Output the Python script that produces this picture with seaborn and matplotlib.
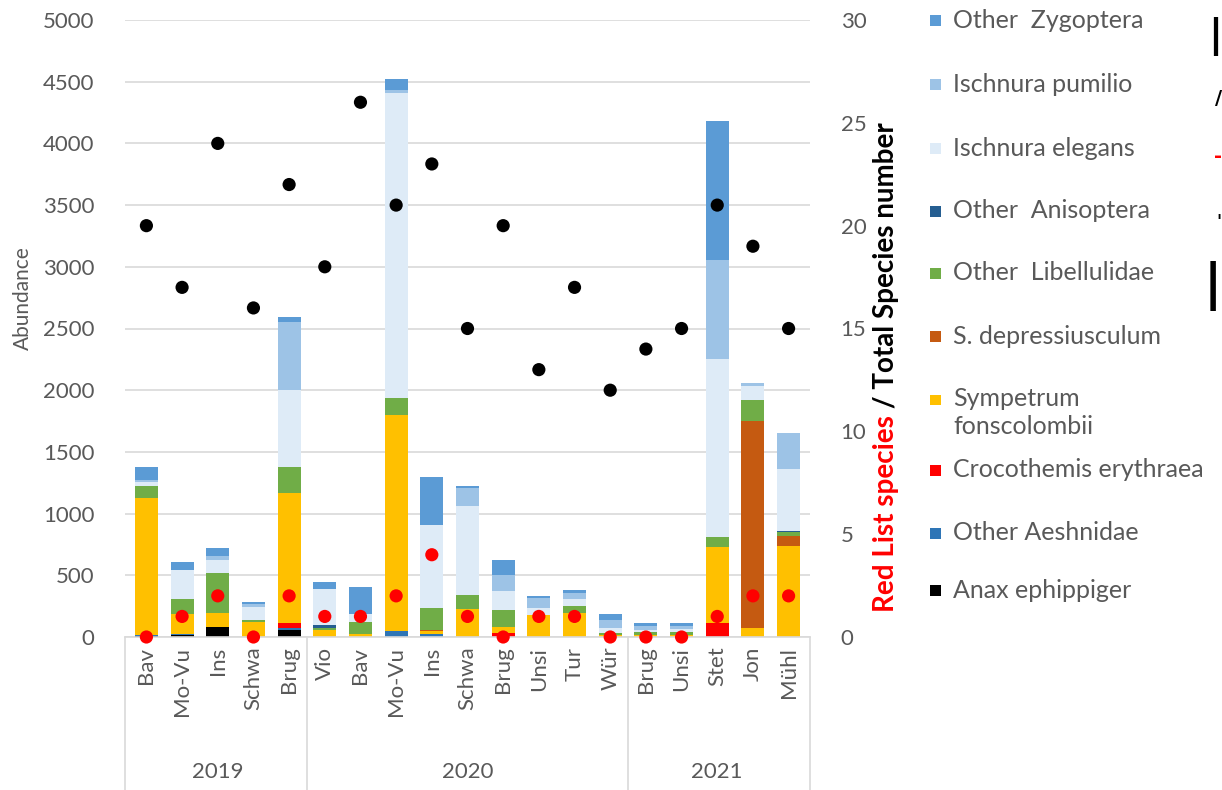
import numpy as np
import pandas as pd
import matplotlib
matplotlib.use("Agg")
import matplotlib.pyplot as plt
from matplotlib.patches import Rectangle
import matplotlib.transforms as mtransforms
import seaborn as sns

# ---------------- data ----------------
sites = ["Bav", "Mo-Vu", "Ins", "Schwa", "Brug",
         "Vio", "Bav", "Mo-Vu", "Ins", "Schwa", "Brug", "Unsi", "Tur", "Wür",
         "Brug", "Unsi", "Stet", "Jon", "Mühl"]
years = ["2019", "2020", "2021"]
year_sizes = [5, 9, 5]

anax_ephippiger   = [5, 20, 80, 0, 55,   0, 0, 0, 0, 0, 0, 0, 0, 0,   0, 0, 0, 0, 0]
other_aeshnidae   = [10, 5, 5, 0, 20,    0, 0, 45, 25, 0, 0, 0, 0, 0,  0, 0, 0, 0, 0]
crocothemis       = [0, 0, 0, 0, 35,     0, 0, 0, 0, 0, 30, 0, 0, 0,   0, 0, 113, 0, 0]
sympetrum_fonsc   = [1110, 165, 110, 120, 1060,  55, 25, 1755, 20, 230, 55, 180, 195, 16,  15, 16, 616, 72, 735]
s_depressiusculum = [0, 0, 0, 0, 0,      0, 0, 0, 15, 0, 0, 0, 0, 0,   0, 0, 0, 1675, 87]
other_libellulidae = [95, 120, 325, 15, 210,  15, 100, 135, 175, 108, 135, 0, 60, 20,  22, 27, 81, 176, 25]
other_anisoptera  = [0, 0, 0, 0, 0,      25, 0, 0, 0, 5, 0, 0, 0, 0,   0, 0, 0, 0, 10]
ischnura_elegans  = [35, 230, 100, 110, 620,  295, 65, 2470, 676, 721, 150, 55, 50, 37,  20, 25, 1445, 115, 505]
ischnura_pumilio  = [15, 0, 35, 20, 550,  0, 0, 30, 0, 143, 135, 80, 50, 62,  30, 20, 800, 20, 288]
other_zygoptera   = [110, 65, 70, 15, 40,  55, 215, 85, 385, 20, 120, 15, 23, 54,  25, 25, 1125, 0, 0]

total_species = [20, 17, 24, 16, 22,  18, 26, 21, 23, 15, 20, 13, 17, 12,  14, 15, 21, 19, 15]
red_list      = [0, 1, 2, 0, 2,       1, 1, 2, 4, 1, 0, 1, 1, 0,       0, 0, 1, 2, 2]

series_names = ["Anax ephippiger", "Other Aeshnidae", "Crocothemis erythraea",
                "Sympetrum\nfonscolombii", "S. depressiusculum", "Other  Libellulidae",
                "Other  Anisoptera", "Ischnura elegans", "Ischnura pumilio", "Other  Zygoptera"]
series_values = [anax_ephippiger, other_aeshnidae, crocothemis, sympetrum_fonsc,
                 s_depressiusculum, other_libellulidae, other_anisoptera,
                 ischnura_elegans, ischnura_pumilio, other_zygoptera]
series_colors = ["#000000", "#2E75B6", "#FF0000", "#FFC000", "#C55A11",
                 "#70AD47", "#255E91", "#DEEBF7", "#9DC3E6", "#5B9BD5"]

# ---------------- style ----------------
sns.set_theme(style="white")
plt.rcParams["font.family"] = ["Lato", "DejaVu Sans"]
GREY = "#595959"
GRID = "#D9D9D9"
FS = 16

W, H = 1222, 790
fig = plt.figure(figsize=(W / 100, H / 100), dpi=100)
fig.patch.set_facecolor("white")

def fx(px):
    return px / W

def fy(py):
    return 1 - py / H

ax = fig.add_axes([fx(125), fy(637), fx(810) - fx(125), fy(20) - fy(637)])

pos = np.arange(len(sites))
cum = np.cumsum(np.array(series_values, dtype=float), axis=0)

# draw stacked bars: top cumulative first, lower layers overlaid
for i in range(len(series_values) - 1, -1, -1):
    df = pd.DataFrame({"pos": pos, "val": cum[i]})
    sns.barplot(data=df, x="pos", y="val", color=series_colors[i], saturation=1,
                width=0.64, linewidth=0, ax=ax, zorder=2)

ax.set_ylim(0, 5000)
ax.set_yticks(np.arange(0, 5001, 500))
ax.set_yticklabels([str(v) for v in range(0, 5001, 500)], color=GREY, fontsize=FS)
ax.yaxis.grid(True, color=GRID, linewidth=1.2, zorder=0)
ax.set_axisbelow(True)
ax.tick_params(axis="y", length=0, pad=22)
ax.set_ylabel("Abundance", color=GREY, fontsize=FS - 1)
ax.yaxis.set_label_coords(-0.135, 0.55)

ax.set_xticks(pos)
ax.set_xticklabels(sites, rotation=90, color=GREY, fontsize=FS, va="top")
ax.tick_params(axis="x", length=0, pad=7)
ax.set_xlabel("")
for s in ["top", "left", "right"]:
    ax.spines[s].set_visible(False)
ax.spines["bottom"].set_color(GRID)
ax.spines["bottom"].set_linewidth(1.2)

# secondary axis with species counts
ax2 = ax.twinx()
sns.scatterplot(x=pos, y=red_list, ax=ax2, color="#FF0000", s=90, edgecolor="none",
                legend=False, zorder=3, clip_on=False)
sns.scatterplot(x=pos, y=total_species, ax=ax2, color="black", s=90, edgecolor="none",
                legend=False, zorder=4, clip_on=False)
ax2.set_ylim(0, 30)
ax2.set_yticks(np.arange(0, 31, 5))
ax2.set_yticklabels([str(v) for v in range(0, 31, 5)], color=GREY, fontsize=FS)
ax2.tick_params(axis="y", length=0, pad=22)
ax2.set_ylabel("")
for s in ["top", "left", "right", "bottom"]:
    ax2.spines[s].set_visible(False)

ax.set_xlim(-0.6, 18.6)
ax2.set_xlim(-0.6, 18.6)

# multi-level category axis (group separators and year labels)
trans = mtransforms.blended_transform_factory(ax.transData, ax.transAxes)
ybot = (637 - 790) / 617.0
bounds = [-0.6]
acc = 0
for n in year_sizes:
    acc += n
    bounds.append(acc - 0.5)
bounds[-1] = 18.6
for b in bounds:
    ax.plot([b, b], [0, ybot], color=GRID, linewidth=1.2, transform=trans, clip_on=False)
start = 0
for yr, n in zip(years, year_sizes):
    ax.text(start + (n - 1) / 2, (637 - 772) / 617.0, yr, transform=trans,
            ha="center", va="center", color=GREY, fontsize=FS)
    start += n

# right axis title in two colours
RFS = 20
red_txt = fig.text(fx(886), fy(612), "Red List species", rotation=90, ha="center",
                   va="bottom", color="#FF0000", fontweight="bold", fontsize=RFS)
fig.canvas.draw()
bb = red_txt.get_window_extent(renderer=fig.canvas.get_renderer())
fig.text(fx(886), bb.y1 / H, " / Total Species number", rotation=90, ha="center",
         va="bottom", color="black", fontweight="bold", fontsize=RFS)

# legend (top to bottom)
legend_y = [20, 84, 148, 211, 273, 336, 400, 470, 533, 590]
legend_order = list(range(len(series_names) - 1, -1, -1))
for yy, idx in zip(legend_y, legend_order):
    fig.add_artist(Rectangle((fx(930), fy(yy + 5.5)), fx(11), 11 / H,
                             transform=fig.transFigure, facecolor=series_colors[idx],
                             edgecolor="none"))
    name = series_names[idx]
    if "\n" in name:
        fig.text(fx(953), fy(yy - 13), name, ha="left", va="top", color=GREY,
                 fontsize=18, linespacing=1.25)
    else:
        fig.text(fx(953), fy(yy), name, ha="left", va="center", color=GREY,
                 fontsize=18)

# fragments of a neighbouring panel at the right edge (kept inside the figure)
frag = dict(ha="right", va="center", fontweight="bold", family="DejaVu Sans")
fig.text(fx(1222), fy(36), "|", color="black", fontsize=28, **frag)
fig.text(fx(1222), fy(99), "/", color="black", fontsize=14, **frag)
fig.text(fx(1222), fy(157), "-", color="#FF0000", fontsize=14, **frag)
fig.text(fx(1222), fy(222), "'", color="black", fontsize=12, **frag)
fig.text(fx(1222), fy(286), "|", color="black", fontsize=36, **frag)

fig.savefig("out.png", dpi=100, facecolor="white")
